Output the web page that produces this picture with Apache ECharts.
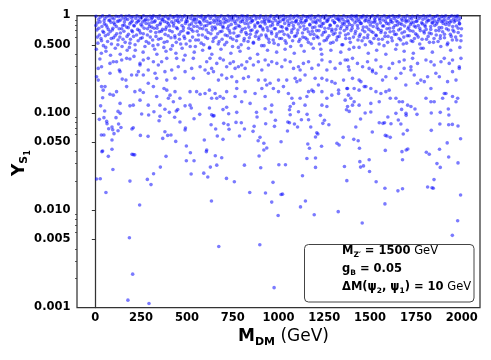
<!DOCTYPE html>
<html>
<head>
<meta charset="utf-8">
<script src="https://cdn.jsdelivr.net/npm/echarts@6/dist/echarts.min.js"></script>
<style>html,body{margin:0;padding:0;background:#fff}#c{width:491px;height:360px}</style>
</head>
<body>
<div id="c"></div>
<script>
// ---- data (M_DM in GeV, Y_S1) ----
const xTicks = [0, 250, 500, 750, 1000, 1250, 1500, 1750, 2000];
const yTickValues = [0.001, 0.005, 0.01, 0.05, 0.1, 0.5, 1];
const yTickLabels = ['0.001', '0.005', '0.010', '0.050', '0.100', '0.500', '1'];

const lowPoints = [
[51,0.1045],[124,0.1035],[136,0.0988],[22,0.0857],[47,0.0892],[62,0.0817],[64,0.0773],[113,0.0892],[127,0.0767],[91,0.0714],
[73,0.0687],[95,0.0671],[140,0.0708],[124,0.0655],[102,0.0611],[33,0.0591],[47,0.0591],[91,0.0525],[253,0.0972],[291,0.0950],
[320,0.1027],[353,0.0920],[348,0.0830],[380,0.1090],[404,0.1012],[433,0.0900],[442,0.1045],[450,0.1080],[462,0.0804],[524,0.112],
[570,0.0965],[539,0.0870],[623,0.112],[635,0.0957],[643,0.0928],[648,0.0935],[632,0.0755],[657,0.0682],[697,0.108],[701,0.078],
[728,0.0980],[725,0.0755],[730,0.0677],[768,0.0797],[772,0.1012],[797,0.0792],[814,0.0682],[861,0.0645],[867,0.0726],[880,0.1012],
[883,0.0905],[927,0.1102],[930,0.0773],[960,0.102],[983,0.0838],[978,0.0726],[207,0.0703],[200,0.0682],[246,0.0586],[288,0.0573],
[380,0.0640],[368,0.0546],[395,0.0586],[413,0.0591],[439,0.0509],[492,0.0698],[490,0.0666],[595,0.0525],[666,0.0578],[697,0.0534],
[787,0.0578],[889,0.0517],[899,0.0560],[920,0.0487],[936,0.0435],[920,0.0415],[894,0.0360],[903,0.0273],[814,0.0290],[690,0.0346],
[655,0.0362],[663,0.0290],[628,0.0277],[608,0.0415],[606,0.0399],[539,0.0322],[519,0.0389],[497,0.0456],[497,0.0322],[386,0.0357],
[355,0.0277],[318,0.0237],[284,0.0207],[304,0.0183],[189,0.0199],[207,0.0372],[200,0.0375],[215,0.0370],[91,0.0422],[40,0.0405],
[36,0.0399],[71,0.0357],[96,0.0262],[7,0.0209],[27,0.0210],[58,0.0152],[242,0.0113],[523,0.0235],[592,0.0240],[614,0.0219],
[716,0.0212],[759,0.0196],[843,0.0152],[929,0.0150],[970,0.0193],[963,0.0121],[998,0.00883],[634,0.0124],[186,0.00521],[674,0.00424],
[898,0.00441],[204,0.00220],[178,0.00119],[293,0.00110],[976,0.00160],
[1060,0.1077],[1064,0.0957],[1109,0.1027],[1156,0.0965],[1164,0.0850],[1229,0.0942],[1371,0.1077],[1386,0.1035],[1473,0.0996],[1504,0.1020],
[1597,0.0906],[1641,0.0988],[1672,0.1085],[1696,0.0988],[1697,0.0942],[1745,0.1094],[1756,0.0965],[1834,0.0996],[1883,0.1012],[1927,0.1094],
[1930,0.0950],[1051,0.0804],[1060,0.0792],[1087,0.0767],[1104,0.0714],[1125,0.0850],[1176,0.0714],[1251,0.0838],[1242,0.0780],[1275,0.0755],
[1422,0.0714],[1448,0.0864],[1512,0.0635],[1550,0.0792],[1570,0.0780],[1579,0.0792],[1614,0.0773],[1654,0.0844],[1668,0.0767],[1703,0.0661],
[1834,0.0661],[1881,0.0767],[1929,0.0755],[1949,0.0761],[1980,0.0732],[1049,0.0651],[1014,0.0505],[1160,0.0479],[1209,0.0625],[1215,0.0606],
[1202,0.0564],[1319,0.0487],[1331,0.0467],[1353,0.0560],[1411,0.0534],[1435,0.0517],[1442,0.0432],[1583,0.0586],[1592,0.0578],[1610,0.0560],
[1681,0.0606],[1583,0.0411],[1674,0.0399],[1697,0.0415],[1706,0.0425],[1807,0.0393],[1823,0.0375],[1879,0.0422],[1921,0.0491],[1994,0.0542],
[1929,0.0352],[1169,0.0432],[1235,0.0453],[1155,0.0340],[1202,0.0343],[1202,0.0275],[1360,0.0281],[1444,0.0315],[1448,0.0277],[1464,0.0285],
[1495,0.0330],[1497,0.0250],[1677,0.0330],[1865,0.0301],[1883,0.0275],[1980,0.0306],[1002,0.0293],[1038,0.0293],[1131,0.0226],[1373,0.0201],
[1533,0.0196],[1581,0.0168],[1652,0.0158],[1677,0.0166],[1814,0.0173],[1838,0.0170],[1845,0.0168],[1849,0.0206],[1994,0.0143],[1014,0.0145],
[1022,0.0146],[1147,0.0124],[1120,0.0108],[1195,0.00897],[1326,0.00965],[1581,0.0116],[1457,0.00737],[1978,0.00779],[1949,0.00551]
];

const midPoints = [
[25,0.357],[80,0.322],[98,0.335],[116,0.335],[144,0.349],[171,0.363],[189,0.357],[244,0.322],[262,0.349],[289,0.363],
[317,0.335],[362,0.335],[390,0.363],[444,0.363],[481,0.349],[535,0.363],[608,0.335],[626,0.363],[16,0.286],[34,0.298],
[80,0.255],[135,0.265],[131,0.275],[167,0.217],[147,0.222],[198,0.245],[226,0.245],[235,0.265],[244,0.310],[262,0.245],
[289,0.275],[326,0.255],[335,0.226],[344,0.310],[380,0.265],[390,0.217],[417,0.275],[435,0.226],[453,0.298],[490,0.265],
[526,0.286],[535,0.226],[572,0.298],[599,0.275],[617,0.255],[635,0.286],[7,0.235],[16,0.217],[34,0.186],[53,0.186],
[43,0.171],[98,0.152],[80,0.155],[116,0.165],[171,0.186],[216,0.165],[244,0.171],[262,0.162],[289,0.201],[317,0.186],
[335,0.147],[375,0.178],[390,0.171],[408,0.152],[435,0.165],[462,0.141],[517,0.165],[553,0.165],[572,0.155],[599,0.158],
[623,0.171],[635,0.141],[40,0.143],[29,0.118],[135,0.125],[189,0.118],[207,0.120],[244,0.135],[289,0.120],[353,0.120],
[399,0.141],[426,0.130],[490,0.118],[517,0.120],
[645,0.265],[663,0.322],[681,0.363],[699,0.349],[717,0.298],[736,0.322],[754,0.335],[763,0.286],[781,0.298],[799,0.310],
[818,0.286],[827,0.335],[845,0.363],[863,0.310],[890,0.335],[909,0.275],[927,0.349],[945,0.310],[963,0.335],[991,0.322],
[1018,0.298],[1036,0.349],[1064,0.335],[1082,0.286],[1109,0.298],[1118,0.275],[1136,0.322],[1164,0.335],[1182,0.286],[1218,0.310],
[1237,0.349],[1264,0.275],[1282,0.335],[1309,0.286],[1337,0.322],[1364,0.349],[1382,0.298],[672,0.217],[690,0.245],[717,0.226],
[745,0.235],[772,0.209],[772,0.178],[809,0.226],[836,0.235],[890,0.217],[927,0.217],[936,0.193],[954,0.201],[1000,0.217],
[1027,0.186],[1045,0.217],[1091,0.226],[1100,0.209],[1118,0.217],[1145,0.245],[1164,0.165],[1182,0.171],[1200,0.226],[1218,0.193],
[1237,0.226],[1264,0.217],[1291,0.209],[1309,0.201],[1328,0.171],[1355,0.217],[1373,0.178],[654,0.158],[663,0.141],[681,0.147],
[699,0.141],[717,0.165],[763,0.147],[818,0.165],[872,0.158],[909,0.178],[927,0.147],[972,0.178],[1000,0.165],[1054,0.158],
[1073,0.141],[1082,0.125],[1118,0.141],[1155,0.147],[1191,0.165],[1237,0.165],[1264,0.141],[1291,0.152],[1328,0.158],[1364,0.135],
[1382,0.152],[717,0.114],[799,0.130],[845,0.125],[963,0.120],[1064,0.116],[1145,0.120],[1237,0.120],[1264,0.116],
[1377,0.349],[1404,0.363],[1431,0.322],[1459,0.298],[1486,0.335],[1513,0.275],[1532,0.349],[1559,0.298],[1623,0.322],[1659,0.335],
[1686,0.349],[1723,0.298],[1732,0.363],[1759,0.322],[1805,0.349],[1832,0.335],[1850,0.310],[1887,0.335],[1905,0.363],[1932,0.322],
[1950,0.349],[1987,0.298],[1996,0.363],[1386,0.275],[1404,0.226],[1440,0.217],[1450,0.209],[1477,0.186],[1495,0.286],[1513,0.265],
[1532,0.255],[1568,0.217],[1586,0.235],[1604,0.286],[1641,0.226],[1668,0.255],[1686,0.286],[1695,0.193],[1723,0.275],[1741,0.245],
[1759,0.201],[1777,0.217],[1796,0.209],[1814,0.235],[1832,0.178],[1859,0.255],[1878,0.235],[1905,0.158],[1923,0.209],[1950,0.265],
[1969,0.217],[1987,0.286],[1377,0.178],[1413,0.178],[1440,0.171],[1468,0.186],[1504,0.178],[1532,0.165],[1559,0.158],[1586,0.165],
[1604,0.171],[1641,0.141],[1659,0.130],[1677,0.130],[1705,0.120],[1723,0.116],[1805,0.141],[1832,0.130],[1850,0.130],[1896,0.141],
[1914,0.158],[1950,0.147],[1978,0.141],[1969,0.130],[1395,0.141],[1413,0.130],[1440,0.120],[1504,0.125],[1550,0.130],[1610,0.141],
[1377,0.116],[1404,0.120]
];

const topPoints = [
[4,0.98],[9,0.71],[14,0.52],[18,0.91],[22,0.63],[6,0.45],[12,0.84],
[27,0.96],[31,0.58],[36,0.77],[40,0.99],[44,0.49],[48,0.88],[33,0.41],[46,0.67],
[52,0.93],[55,0.62],[59,0.80],[63,0.97],[67,0.54],[71,0.72],[74,0.89],[58,0.43],
[77,0.99],[81,0.68],[85,0.85],[88,0.51],[92,0.95],[96,0.74],[99,0.59],[83,0.39],
[102,0.92],[106,0.81],[109,0.46],[113,0.98],[117,0.65],[121,0.87],[124,0.56],
[127,0.97],[130,0.73],[134,0.60],[138,0.90],[142,0.99],[146,0.48],[149,0.79],[136,0.40],
[152,0.94],[156,0.69],[159,0.86],[163,0.53],[167,0.98],[171,0.76],[174,0.44],
[177,0.91],[181,0.64],[184,0.99],[188,0.82],[192,0.57],[196,0.95],[199,0.70],[186,0.47],
[202,0.88],[206,0.97],[209,0.61],[213,0.78],[217,0.50],[221,0.93],[224,0.84],[211,0.38],
[227,0.99],[231,0.72],[234,0.55],[238,0.89],[242,0.96],[246,0.66],[249,0.81],
[252,0.94],[256,0.59],[259,0.86],[263,0.99],[267,0.74],[271,0.48],[274,0.91],[261,0.42],
[277,0.83],[281,0.97],[284,0.63],[288,0.90],[292,0.52],[296,0.77],[299,0.98],
[302,0.69],[306,0.92],[309,0.85],[313,0.56],[317,0.99],[321,0.74],[324,0.45],[311,0.95],
[327,0.88],[331,0.61],[334,0.97],[338,0.79],[342,0.50],[346,0.93],[349,0.68],[336,0.40],
[352,0.99],[356,0.84],[359,0.58],[363,0.91],[367,0.72],[371,0.96],[374,0.47],
[377,0.87],[381,0.64],[384,0.98],[388,0.76],[392,0.54],[396,0.94],[399,0.82],[386,0.43],
[402,0.92],[406,0.70],[409,0.99],[413,0.59],[417,0.86],[421,0.49],[424,0.95],
[427,0.78],[431,0.97],[434,0.62],[438,0.89],[442,0.53],[446,0.99],[449,0.73],[440,0.41],
[452,0.94],[456,0.85],[459,0.57],[463,0.98],[467,0.68],[471,0.90],[474,0.46],
[477,0.96],[481,0.75],[484,0.61],[488,0.99],[492,0.83],[496,0.51],[499,0.92],[490,0.39],
[502,0.87],[506,0.97],[509,0.66],[513,0.80],[517,0.55],[521,0.93],[524,0.72],
[527,0.99],[531,0.60],[534,0.88],[538,0.77],[542,0.95],[546,0.48],[549,0.84],[540,0.42],
[552,0.91],[556,0.69],[559,0.98],[563,0.56],[567,0.86],[571,0.74],[574,0.96],
[577,0.81],[581,0.99],[584,0.63],[588,0.92],[592,0.50],[596,0.78],[599,0.94],[586,0.44],
[602,0.97],[606,0.71],[609,0.87],[613,0.58],[617,0.99],[621,0.83],[624,0.47],
[627,0.93],[631,0.65],[634,0.98],[638,0.76],[642,0.54],[646,0.90],[649,0.85],[636,0.40],
[652,0.99],[656,0.73],[659,0.60],[663,0.95],[667,0.82],[671,0.51],[674,0.89],
[677,0.96],[681,0.68],[684,0.86],[688,0.99],[692,0.57],[696,0.77],[699,0.92],[686,0.45],
[702,0.84],[706,0.97],[709,0.63],[713,0.91],[717,0.53],[721,0.74],[724,0.99],
[727,0.88],[731,0.70],[734,0.95],[738,0.59],[742,0.81],[746,0.98],[749,0.48],[740,0.41],
[752,0.93],[756,0.66],[759,0.87],[763,0.99],[767,0.75],[771,0.55],[774,0.90],
[777,0.97],[781,0.79],[784,0.62],[788,0.94],[792,0.86],[796,0.50],[799,0.99],[790,0.43],
[802,0.72],[806,0.91],[809,0.98],[813,0.58],[817,0.83],[821,0.67],[824,0.95],
[827,0.89],[831,0.99],[834,0.54],[838,0.76],[842,0.93],[846,0.64],[849,0.85],[836,0.46],
[852,0.96],[856,0.71],[859,0.88],[863,0.52],[867,0.99],[871,0.80],[874,0.61],
[877,0.92],[881,0.97],[884,0.69],[888,0.84],[892,0.57],[896,0.94],[899,0.77],[886,0.40],
[902,0.99],[906,0.63],[909,0.86],[913,0.74],[917,0.95],[921,0.49],[924,0.90],
[927,0.82],[931,0.98],[934,0.60],[938,0.92],[942,0.70],[946,0.87],[949,0.53],[940,0.44],
[952,0.96],[956,0.78],[959,0.99],[963,0.65],[967,0.85],[971,0.56],[974,0.93],
[977,0.73],[981,0.97],[984,0.89],[988,0.61],[992,0.99],[996,0.81],[999,0.50],[990,0.42],
[1002,0.94],[1006,0.68],[1009,0.87],[1013,0.98],[1017,0.58],[1021,0.76],[1024,0.91],
[1027,0.99],[1031,0.64],[1034,0.83],[1038,0.95],[1042,0.52],[1046,0.72],[1049,0.88],[1036,0.45],
[1052,0.97],[1056,0.79],[1059,0.60],[1063,0.92],[1067,0.99],[1071,0.67],[1074,0.85],
[1077,0.55],[1081,0.94],[1084,0.74],[1088,0.98],[1092,0.86],[1096,0.62],[1099,0.90],[1086,0.41],
[1102,0.99],[1106,0.71],[1109,0.82],[1113,0.96],[1117,0.57],[1121,0.88],[1124,0.49],
[1127,0.93],[1131,0.66],[1134,0.99],[1138,0.78],[1142,0.85],[1146,0.59],[1149,0.97],[1140,0.43],
[1152,0.89],[1156,0.73],[1159,0.95],[1163,0.53],[1167,0.98],[1171,0.81],[1174,0.64],
[1177,0.92],[1181,0.99],[1184,0.69],[1188,0.86],[1192,0.58],[1196,0.94],[1199,0.76],[1190,0.46],
[1202,0.97],[1206,0.84],[1209,0.61],[1213,0.90],[1217,0.99],[1221,0.70],[1224,0.51],
[1227,0.88],[1231,0.95],[1234,0.77],[1238,0.63],[1242,0.98],[1246,0.83],[1249,0.55],[1236,0.40],
[1252,0.93],[1256,0.68],[1259,0.99],[1263,0.87],[1267,0.59],[1271,0.91],[1274,0.74],
[1277,0.96],[1281,0.80],[1284,0.52],[1288,0.97],[1292,0.72],[1296,0.89],[1299,0.64],[1286,0.44],
[1302,0.99],[1306,0.85],[1309,0.66],[1313,0.94],[1317,0.56],[1321,0.78],[1324,0.92],
[1327,0.98],[1331,0.61],[1334,0.88],[1338,0.73],[1342,0.95],[1346,0.50],[1349,0.83],[1340,0.42],
[1352,0.91],[1356,0.99],[1359,0.70],[1363,0.86],[1367,0.58],[1371,0.96],[1374,0.77],
[1377,0.89],[1381,0.65],[1384,0.97],[1388,0.81],[1392,0.53],[1396,0.93],[1399,0.99],[1386,0.45],
[1402,0.74],[1406,0.90],[1409,0.60],[1413,0.98],[1417,0.84],[1421,0.69],[1424,0.95],
[1427,0.99],[1431,0.79],[1434,0.56],[1438,0.92],[1442,0.87],[1446,0.64],[1449,0.97],[1440,0.47],
[1452,0.83],[1456,0.95],[1459,0.71],[1463,0.99],[1467,0.59],[1471,0.88],[1474,0.50],
[1477,0.94],[1481,0.76],[1484,0.98],[1488,0.63],[1492,0.86],[1496,0.91],[1499,0.54],[1490,0.41],
[1502,0.97],[1506,0.69],[1509,0.85],[1513,0.99],[1517,0.77],[1521,0.58],[1524,0.92],
[1527,0.88],[1531,0.96],[1534,0.62],[1538,0.81],[1542,0.99],[1546,0.72],[1549,0.51],[1536,0.44],
[1552,0.93],[1556,0.84],[1559,0.67],[1563,0.97],[1567,0.57],[1571,0.90],[1574,0.78],
[1577,0.99],[1581,0.61],[1584,0.87],[1588,0.94],[1592,0.73],[1596,0.53],[1599,0.96],[1586,0.40],
[1602,0.82],[1606,0.98],[1609,0.68],[1613,0.91],[1617,0.59],[1621,0.85],[1624,0.99],
[1627,0.75],[1631,0.93],[1634,0.64],[1638,0.97],[1642,0.88],[1646,0.50],[1649,0.80],[1640,0.45],
[1652,0.96],[1656,0.71],[1659,0.99],[1663,0.83],[1667,0.56],[1671,0.92],[1674,0.66],
[1677,0.89],[1681,0.97],[1684,0.60],[1688,0.78],[1692,0.94],[1696,0.86],[1699,0.52],[1686,0.43],
[1702,0.99],[1706,0.73],[1709,0.88],[1713,0.62],[1717,0.95],[1721,0.81],[1724,0.55],
[1727,0.92],[1731,0.98],[1734,0.69],[1738,0.85],[1742,0.58],[1746,0.96],[1749,0.76],[1736,0.41],
[1752,0.87],[1756,0.63],[1759,0.99],[1763,0.79],[1767,0.93],[1771,0.51],[1774,0.70],
[1777,0.97],[1781,0.84],[1784,0.57],[1788,0.91],[1792,0.99],[1796,0.66],[1799,0.80],[1790,0.46],
[1802,0.94],[1806,0.72],[1809,0.86],[1813,0.98],[1817,0.61],[1821,0.89],[1824,0.53],
[1827,0.99],[1831,0.77],[1834,0.65],[1838,0.92],[1842,0.84],[1846,0.96],[1849,0.58],[1840,0.42],
[1852,0.88],[1856,0.97],[1859,0.70],[1863,0.82],[1867,0.99],[1871,0.54],[1874,0.91],
[1877,0.75],[1881,0.94],[1884,0.62],[1888,0.87],[1892,0.98],[1896,0.68],[1899,0.83],[1886,0.48],
[1902,0.96],[1906,0.59],[1909,0.90],[1913,0.99],[1917,0.73],[1921,0.85],[1924,0.52],
[1927,0.93],[1931,0.80],[1934,0.97],[1938,0.64],[1942,0.88],[1946,0.99],[1949,0.56],[1940,0.44],
[1952,0.71],[1956,0.92],[1959,0.86],[1963,0.98],[1967,0.60],[1971,0.78],[1974,0.95],
[1977,0.99],[1981,0.67],[1984,0.89],[1988,0.82],[1992,0.94],[1996,0.55],[1999,0.73],[1990,0.47]
];

const upperExtra = [
[3,0.79],[11,0.60],[19,0.74],[26,0.86],[34,0.55],[41,0.69],[49,0.82],[57,0.47],[64,0.76],[70,0.64],[79,0.90],[87,0.58],[93,0.71],
[101,0.84],[108,0.62],[115,0.77],[123,0.50],[129,0.88],[137,0.66],[144,0.73],[151,0.57],[158,0.80],[166,0.92],[173,0.61],[180,0.75],
[189,0.52],[195,0.85],[203,0.68],[210,0.79],[218,0.44],[225,0.63],[233,0.87],[240,0.70],[247,0.58],[255,0.78],[262,0.65],[270,0.89],
[278,0.54],[285,0.73],[293,0.82],[300,0.60],[308,0.76],[315,0.49],[322,0.86],[330,0.67],[337,0.74],[345,0.57],[353,0.81],[361,0.69],
[368,0.90],[376,0.53],[383,0.72],[391,0.85],[398,0.62],[405,0.78],[412,0.45],[420,0.68],[428,0.83],[435,0.59],[443,0.75],[450,0.88],
[458,0.64],[466,0.51],[473,0.79],[480,0.70],[488,0.58],[495,0.87],[503,0.66],[510,0.74],[518,0.48],[525,0.82],[533,0.69],[540,0.91],
[548,0.56],[556,0.77],[563,0.63],[571,0.85],[578,0.52],[586,0.73],[593,0.88],[601,0.60],[608,0.79],[616,0.67],[623,0.46],[631,0.84],
[638,0.71],[646,0.58],[653,0.76],[661,0.89],[668,0.65],[676,0.54],[683,0.81],[691,0.69],[698,0.75],[706,0.50],[713,0.86],[721,0.62],
[728,0.78],[736,0.66],[743,0.90],[751,0.57],[758,0.73],[766,0.83],[773,0.61],[781,0.47],[788,0.77],[796,0.68],[803,0.87],[811,0.55],
[818,0.74],[826,0.64],[833,0.82],[841,0.59],[848,0.70],[856,0.89],[863,0.53],[871,0.76],[878,0.66],[886,0.84],[893,0.60],[901,0.78],
[908,0.49],[916,0.71],[923,0.86],[931,0.63],[938,0.75],[946,0.57],[953,0.88],[961,0.68],[968,0.80],[976,0.52],[983,0.73],[991,0.65],
[998,0.85],[1006,0.58],[1013,0.77],[1021,0.69],[1028,0.90],[1036,0.55],[1043,0.74],[1051,0.63],[1058,0.83],[1066,0.48],[1073,0.71],
[1081,0.79],[1088,0.61],[1096,0.87],[1103,0.66],[1111,0.54],[1118,0.76],[1126,0.84],[1133,0.60],[1141,0.72],[1148,0.89],[1156,0.57],
[1163,0.68],[1171,0.80],[1178,0.51],[1186,0.75],[1193,0.64],[1201,0.86],[1208,0.70],[1216,0.59],[1223,0.78],[1231,0.45],[1238,0.82],
[1246,0.67],[1253,0.74],[1261,0.56],[1268,0.88],[1276,0.62],[1283,0.79],[1291,0.69],[1298,0.53],[1306,0.84],[1313,0.72],[1321,0.60],
[1328,0.91],[1336,0.66],[1343,0.77],[1351,0.50],[1358,0.81],[1366,0.63],[1373,0.73],[1381,0.86],[1388,0.58],[1396,0.70],[1403,0.79],
[1411,0.47],[1418,0.65],[1426,0.88],[1433,0.74],[1441,0.61],[1448,0.83],[1456,0.55],[1463,0.76],[1471,0.68],[1478,0.89],[1486,0.59],
[1493,0.72],[1501,0.80],[1508,0.52],[1516,0.67],[1523,0.85],[1531,0.63],[1538,0.75],[1546,0.57],[1553,0.90],[1561,0.70],[1568,0.78],
[1576,0.49],[1583,0.66],[1591,0.83],[1598,0.61],[1606,0.74],[1613,0.87],[1621,0.55],[1628,0.69],[1636,0.79],[1643,0.64],[1651,0.86],
[1658,0.58],[1666,0.73],[1673,0.81],[1681,0.51],[1688,0.68],[1696,0.89],[1703,0.62],[1711,0.76],[1718,0.70],[1726,0.84],[1733,0.54],
[1741,0.78],[1748,0.65],[1756,0.88],[1763,0.60],[1771,0.74],[1778,0.46],[1786,0.82],[1793,0.69],[1801,0.77],[1808,0.57],[1816,0.90],
[1823,0.66],[1831,0.72],[1838,0.84],[1846,0.53],[1853,0.79],[1861,0.63],[1868,0.86],[1876,0.70],[1883,0.58],[1891,0.75],[1898,0.88],
[1906,0.64],[1913,0.81],[1921,0.50],[1928,0.71],[1936,0.85],[1943,0.61],[1951,0.77],[1958,0.68],[1966,0.89],[1973,0.56],[1981,0.74],
[1988,0.83],[1996,0.62]
];

// ---- chart ----
const FONT = 'DejaVu Sans';
const allPoints = lowPoints.concat(midPoints, topPoints, upperExtra);
const seriesData = allPoints.map(p => [p[0], Math.log10(p[1])]);
const yMajor = yTickValues.map(v => Math.log10(v));
const yMinor = [];
[-3, -2, -1].forEach(d => { for (let k = 2; k <= 9; k++) { if (k !== 5) yMinor.push(d + Math.log10(k)); } });

function yLabel(v) {
  for (let i = 0; i < yMajor.length; i++) if (Math.abs(yMajor[i] - v) < 1e-6) return yTickLabels[i];
  return '';
}

const axisColor = '#333';
const tickFont = { fontFamily: FONT, fontWeight: 'bold', fontSize: 11.5, color: '#000' };

const chart = echarts.init(document.getElementById('c'), null, { renderer: 'canvas' });
chart.setOption({
  animation: false,
  backgroundColor: '#fff',
  grid: { left: 77, right: 11, top: 15.5, bottom: 52.5, show: true, borderColor: axisColor, borderWidth: 1.25, backgroundColor: 'transparent' },
  xAxis: [{
    type: 'value', min: -100, max: 2100,
    axisLine: { show: true, lineStyle: { color: axisColor, width: 1.25 } },
    axisTick: { show: true, length: 3.5, lineStyle: { color: axisColor, width: 1 }, customValues: xTicks },
    axisLabel: Object.assign({ margin: 5, customValues: xTicks, formatter: v => String(v) }, tickFont),
    splitLine: { show: false }
  }],
  yAxis: [{
    type: 'value', min: -3, max: 0,
    axisLine: { show: true, lineStyle: { color: axisColor, width: 1.25 } },
    axisTick: { show: true, length: 3.5, lineStyle: { color: axisColor, width: 1 }, customValues: yMajor },
    axisLabel: Object.assign({ margin: 6.5, customValues: yMajor, formatter: yLabel }, tickFont),
    splitLine: { show: false }
  }, {
    type: 'value', min: -3, max: 0, position: 'left',
    axisLine: { show: false },
    axisTick: { show: true, length: 2, lineStyle: { color: axisColor, width: 0.8 }, customValues: yMinor },
    axisLabel: { show: false },
    splitLine: { show: false }
  }],
  series: [{
    type: 'scatter',
    data: seriesData,
    symbol: 'circle',
    symbolSize: 3.6,
    itemStyle: { color: 'rgba(0,0,255,0.65)' },
    silent: true
  }],
  graphic: [
    { type: 'text', left: 238, top: 328, z: 10,
      style: { text: '{b|M}{s|DM}{n| (GeV)}', rich: {
        b: { fontFamily: FONT, fontWeight: 'bold', fontSize: 17, lineHeight: 22, fill: '#000' },
        s: { fontFamily: FONT, fontWeight: 'bold', fontSize: 11, lineHeight: 22, verticalAlign: 'bottom', fill: '#000' },
        n: { fontFamily: FONT, fontSize: 17, lineHeight: 22, fill: '#000' } } } },
    { type: 'text', x: 8, y: 176, rotation: Math.PI / 2, z: 10,
      style: { text: '{b|Y}{s|S}{t|1}', rich: {
        b: { fontFamily: FONT, fontWeight: 'bold', fontSize: 17, lineHeight: 24, fill: '#000' },
        s: { fontFamily: FONT, fontWeight: 'bold', fontSize: 11, lineHeight: 24, verticalAlign: 'bottom', padding: [0, 0, 2, 0], fill: '#000' },
        t: { fontFamily: FONT, fontWeight: 'bold', fontSize: 8, lineHeight: 24, verticalAlign: 'bottom', fill: '#000' } } } },
    { type: 'rect', z: 20, shape: { x: 304.5, y: 244.5, width: 169.5, height: 57.5, r: 4 },
      style: { fill: 'rgba(255,255,255,0.85)', stroke: '#444', lineWidth: 1 } },
    { type: 'text', left: 342, top: 245, z: 21,
      style: { text: '{b|M}{s|Z′}{b| = 1500}{n| GeV}', rich: {
        b: { fontFamily: FONT, fontWeight: 'bold', fontSize: 11.5, lineHeight: 17, fill: '#000' },
        s: { fontFamily: FONT, fontWeight: 'bold', fontSize: 7.5, lineHeight: 17, verticalAlign: 'bottom', fill: '#000' },
        n: { fontFamily: FONT, fontSize: 11.5, lineHeight: 17, fill: '#000' } } } },
    { type: 'text', left: 342, top: 263, z: 21,
      style: { text: '{b|g}{s|B}{b| = 0.05}', rich: {
        b: { fontFamily: FONT, fontWeight: 'bold', fontSize: 11.5, lineHeight: 17, fill: '#000' },
        s: { fontFamily: FONT, fontWeight: 'bold', fontSize: 7.5, lineHeight: 17, verticalAlign: 'bottom', fill: '#000' } } } },
    { type: 'text', left: 342, top: 281, z: 21,
      style: { text: '{b|ΔM(ψ}{s|2}{b|, ψ}{s|1}{b|) = 10}{n| GeV}', rich: {
        b: { fontFamily: FONT, fontWeight: 'bold', fontSize: 11.5, lineHeight: 17, fill: '#000' },
        s: { fontFamily: FONT, fontWeight: 'bold', fontSize: 7.5, lineHeight: 17, verticalAlign: 'bottom', fill: '#000' },
        n: { fontFamily: FONT, fontSize: 11.5, lineHeight: 17, fill: '#000' } } } }
  ]
});
</script>
</body>
</html>
